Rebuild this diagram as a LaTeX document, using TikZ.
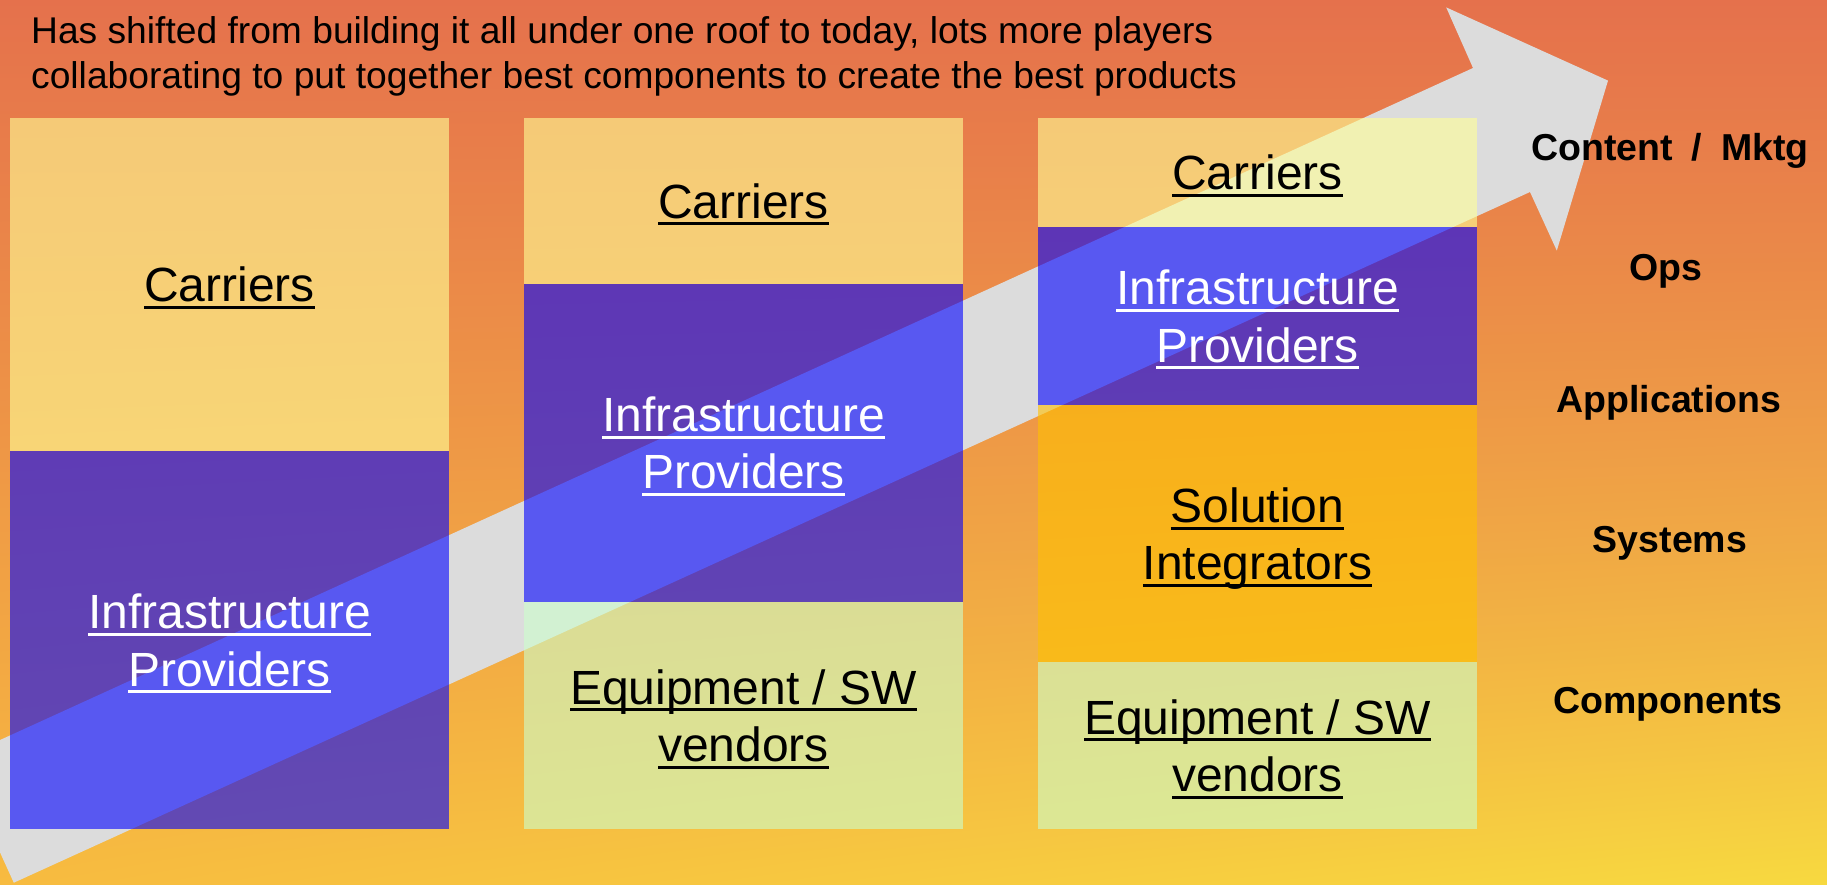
\documentclass[tikz,border=0pt]{standalone}
\usepackage{fontspec}
\setmainfont{Liberation Sans}
\usepackage{tikz}
\usetikzlibrary{positioning}
\tikzstyle{slide} = [x = 1pt, y = -1pt]
\definecolor{arrowColor}{RGB}{220,220,220}
\definecolor{carrierColor}{RGB}{255,255,150}
\definecolor{infraColor}{RGB}{0,0,255}
\definecolor{solutionColor}{RGB}{255,192,0}
\definecolor{equipmentColor}{RGB}{204,255,204}
% orange at the top, yellow at the bottom, more yellow to the right
\pgfdeclarefunctionalshading{backgroundShading}{\pgfpoint{0bp}{0bp}}{\pgfpoint{100bp}{100bp}}{}{
  75 exch sub 50 div
  exch 25 sub 50 div
  1 index dup mul mul 30 mul
  1 index 74 mul add 113 add 255 div
  exch dup 18 mul 229 add 255 div
  exch -12 mul 76 add 255 div
  3 -1 roll exch
}
\tikzstyle{backgroundStyle} = [shading = backgroundShading]
\tikzstyle{arrowStyle} = [fill = arrowColor]
\tikzstyle{layerStyle} = [rectangle, inner sep = 0, outer sep = 0, minimum width = 439, fill opacity = .6, text opacity = 1, text depth = 0pt, align = center, font = \fontsize{48}{57.5}\selectfont]
\tikzstyle{carrierLayer} = [layerStyle, fill = carrierColor]
\tikzstyle{infraLayer} = [layerStyle, fill = infraColor, text = white]
\tikzstyle{solutionLayer} = [layerStyle, fill = solutionColor]
\tikzstyle{equipmentLayer} = [layerStyle, fill = equipmentColor]
\tikzstyle{levelText} = [anchor = base, inner sep = 0, font = \bfseries\fontsize{37.5}{45}\selectfont]
\tikzstyle{titleText} = [anchor = south west, inner sep = 0, text depth = 0pt, align = left, font = \fontsize{37.2}{45}\selectfont]
\newcommand{\colWidth}{439}
\newsavebox{\labelBox}
\newcommand{\layerText}[1]{\sbox{\labelBox}{#1}\rlap{\vrule height -4.2pt depth 7.2pt width \wd\labelBox}\usebox{\labelBox}}
\newcommand{\layer}[6]{\node [#2, minimum height = #5 - #4] (#1) at (#3 + \colWidth / 2, {(#4 + #5) / 2}) {#6};}

\begin{document}
\begin{tikzpicture}[slide]
  \useasboundingbox (0,0) rectangle (1827,884);
  \begin{scope}
    \clip (0,0) rectangle (1827,884);
    \shade [backgroundStyle] (0,0) rectangle (1827,884);
    % big arrow, behind the layers
    \fill [arrowStyle] (-42.3,759.3) -- (1473,68) -- (1446.2,7.4) -- (1608,80.6) -- (1556.8,250.6) -- (1530,192) -- (13.8,882.7) -- cycle;
  \end{scope}

  \node [titleText] (title) at (31, 88.3) {Has shifted from building it all under one roof to today, lots more players\\collaborating to put together best components to create the best products};

  % column 1
  \layer{carriersOne}{carrierLayer}{10}{118}{451}{\layerText{Carriers}}
  \layer{infraOne}{infraLayer}{10}{451}{829}{\layerText{Infrastructure}\\\layerText{Providers}}

  % column 2
  \layer{carriersTwo}{carrierLayer}{524}{118}{283.7}{\layerText{Carriers}}
  \layer{infraTwo}{infraLayer}{524}{283.7}{601.7}{\layerText{Infrastructure}\\\layerText{Providers}}
  \layer{equipmentTwo}{equipmentLayer}{524}{601.7}{829}{\layerText{Equipment / SW}\\\layerText{vendors}}

  % column 3
  \layer{carriersThree}{carrierLayer}{1038}{118}{227}{\layerText{Carriers}}
  \layer{infraThree}{infraLayer}{1038}{227}{405.3}{\layerText{Infrastructure}\\\layerText{Providers}}
  \layer{solutionThree}{solutionLayer}{1038}{405.3}{662}{\layerText{Solution}\\\layerText{Integrators}}
  \layer{equipmentThree}{equipmentLayer}{1038}{662}{829}{\layerText{Equipment / SW}\\\layerText{vendors}}

  % levels
  \node [levelText] (contentLevel) at (1670, 160) {Content\enspace/\enspace Mktg};
  \node [levelText] (opsLevel) at (1666, 280) {Ops};
  \node [levelText] (applicationsLevel) at (1669, 412.7) {Applications};
  \node [levelText] (systemsLevel) at (1670, 552.7) {Systems};
  \node [levelText] (componentsLevel) at (1668, 713) {Components};
\end{tikzpicture}
\end{document}
